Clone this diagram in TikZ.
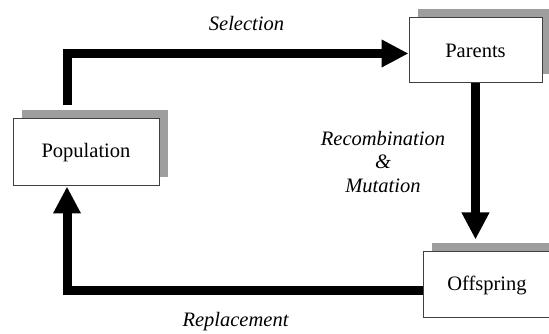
\documentclass[tikz,border=0pt]{standalone}
\usepackage{fontspec}
\setmainfont{Liberation Serif}
\usetikzlibrary{arrows.meta,shadows}
\begin{document}
\begin{tikzpicture}[x=1pt,y=1pt,
  box/.style={draw=black!75, line width=1pt, fill=white, rectangle, inner sep=0pt,
    font=\fontsize{20.5}{24}\selectfont,
    general shadow={fill=black!38, shadow xshift=8.5pt, shadow yshift=8.5pt}},
  flow/.style={line width=9pt, line join=miter, -{Triangle[width=26pt,length=27pt]}},
  lbl/.style={font=\fontsize{20.5}{23.5}\selectfont\itshape, align=center, inner sep=0pt}]
\useasboundingbox (0,0) rectangle (549,334);
\clip (0,0) rectangle (549,334);
\node[box, minimum width=146pt, minimum height=67pt] (pop) at (86,181.5) {Population};
\node[box, minimum width=133pt, minimum height=65pt] (par) at (475.5,283.5) {Parents};
\node[box, minimum width=128pt, minimum height=66pt] (off) at (487,49) {Offspring};
\coordinate (selstart) at ([shift={(-19pt,13pt)}]pop.north);
\coordinate (mutend) at ([yshift=12pt]off.north);
\draw[flow] (selstart) |- ([yshift=-3pt]par.west);
\draw[flow] (par.south) -- (par.south |- mutend);
\draw[flow] ([yshift=-6pt]off.west) -| ([xshift=-19pt]pop.south);
\node[lbl] (sel) at (246.5,311) {Selection};
\node[lbl] (rec) at (383,172) {Recombination\\\&\\Mutation};
\node[lbl] (rep) at (235.5,12) {Replacement};
\end{tikzpicture}
\end{document}
